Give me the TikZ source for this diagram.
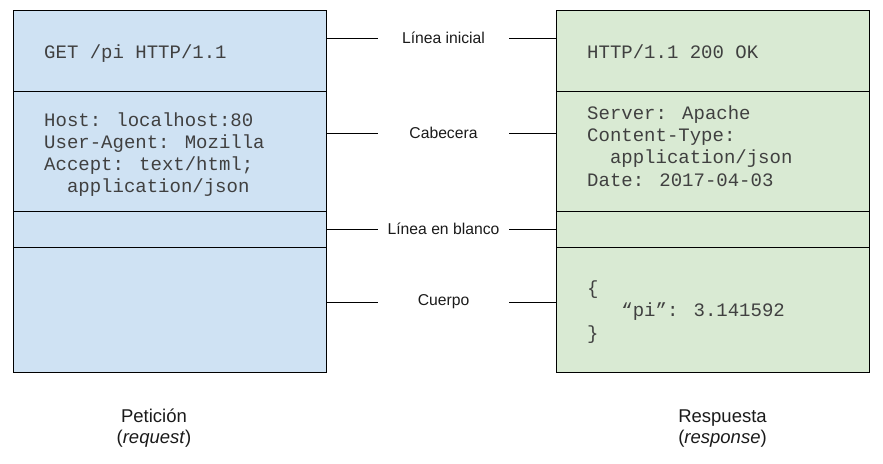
\documentclass[tikz,border=0pt]{standalone}
\usepackage{fontspec}
\setmainfont{Liberation Sans}
\newfontfamily\codefont{Liberation Mono}
\definecolor{reqblue}{HTML}{CFE2F3}
\definecolor{resgreen}{HTML}{D9EAD3}
\definecolor{codegray}{HTML}{404040}
\definecolor{labblack}{HTML}{1A1A1A}
\begin{document}
\begin{tikzpicture}[x=1pt,y=-1pt,
  sec/.style={draw=black, line width=1pt, inner sep=0pt, anchor=north west, minimum width=312.5pt},
  reqsec/.style={sec, fill=reqblue},
  ressec/.style={sec, fill=resgreen},
  code/.style={font=\codefont\fontsize{19}{22.3}\selectfont, text=codegray, inner sep=0pt, anchor=base west, align=left},
  lab/.style={font=\fontsize{15.7}{18}\selectfont, inner sep=0pt, minimum width=131pt, text=labblack},
  conn/.style={line width=1pt},
  foot/.style={font=\fontsize{18.5}{21.5}\selectfont, inner sep=0pt, anchor=base, align=center, text=labblack}]
\useasboundingbox (0,0) rectangle (883,463);

% request sections
\node[reqsec, minimum height=81pt]   (req1) at (13,10) {};
\node[reqsec, minimum height=120pt]  (req2) at (13,91) {};
\node[reqsec, minimum height=35.5pt] (req3) at (13,211) {};
\node[reqsec, minimum height=125pt]  (req4) at (13,246.5) {};
% response sections
\node[ressec, minimum height=81pt]   (res1) at (556,10) {};
\node[ressec, minimum height=120pt]  (res2) at (556,91) {};
\node[ressec, minimum height=35.5pt] (res3) at (556,211) {};
\node[ressec, minimum height=125pt]  (res4) at (556,246.5) {};

% code texts (anchor = baseline of the last line)
\node[code] (c1) at (44,58.3) {GET /pi HTTP/1.1};
\node[code] (c2) at (44,192.9) {Host: localhost:80\\User-Agent: Mozilla\\Accept: text/html;\\\hphantom{xx}application/json};
\node[code] (c3) at (587,58.3) {HTTP/1.1 200 OK};
\node[code] (c4) at (587,186.2) {Server: Apache\\Content-Type:\\\hphantom{xx}application/json\\Date: 2017-04-03};
\node[code] (c5) at (587,339) {\{\\\hphantom{xxx}“pi”: 3.141592\\\}};

% middle labels
\node[lab] (l1) at (443.5,38) {Línea inicial};
\node[lab] (l2) at (443.5,133) {Cabecera};
\node[lab] (l3) at (443.5,229) {Línea en blanco};
\node[lab] (l4) at (443.5,302) {Cuerpo};

\draw[conn] (l1.west) -- (l1.west -| req1.east);
\draw[conn] (l1.east) -- (l1.east -| res1.west);
\draw[conn] (l2.west) -- (l2.west -| req2.east);
\draw[conn] (l2.east) -- (l2.east -| res2.west);
\draw[conn] (l3.west) -- (l3.west -| req3.east);
\draw[conn] (l3.east) -- (l3.east -| res3.west);
\draw[conn] (l4.west) -- (l4.west -| req4.east);
\draw[conn] (l4.east) -- (l4.east -| res4.west);

% footers
\node[foot] (f1) at (154,443.5) {Petición\\(\textit{request})};
\node[foot] (f2) at (722.5,443.5) {Respuesta\\(\textit{response})};
\end{tikzpicture}
\end{document}
